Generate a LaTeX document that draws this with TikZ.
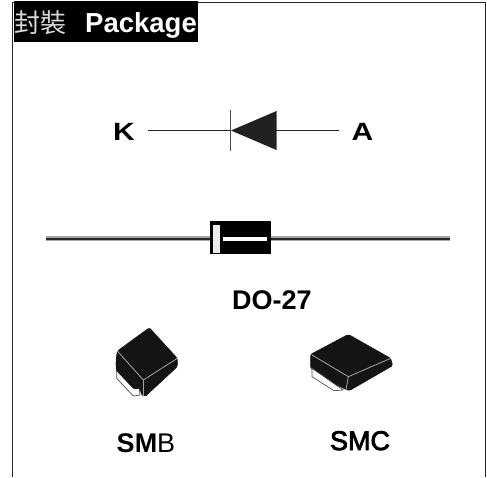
\documentclass[tikz,border=0pt]{standalone}
\usepackage{fontspec}
\setmainfont{Liberation Sans}
\newfontfamily\cjkfont{Noto Sans CJK TC}
\newfontfamily\semifont[FakeBold=3]{Liberation Sans}
\tikzset{
  lbl/.style={font=\bfseries\fontsize{27}{27}\selectfont, text=black, inner sep=0pt, anchor=base},
  wire/.style={draw=black!85, line width=0.9pt},
  edgeline/.style={draw=white!65!black, line width=0.8pt, line join=round},
  body/.style={fill=black!92, draw=black!92, line width=0.5pt, line join=round, rounded corners=1.5pt},
  tabline/.style={draw=black!70, line width=0.7pt, fill=white, line join=round}
}
\begin{document}
\begin{tikzpicture}[x=1pt,y=-1pt]
\useasboundingbox (0,0) rectangle (487,477);
% frame
\draw[draw=black!85, line width=1.9pt] (12.5,477) -- (12.5,2.5) -- (485.5,2.5) -- (485.5,477);
% header
\fill[black] (14,1) rectangle (198,42);
\node[inner sep=0pt, anchor=base west, text=white!85!black, font=\cjkfont\fontsize{26}{26}\selectfont] (hzh) at (14.5,32) {封裝};
\node[inner sep=0pt, anchor=base west, text=white, font=\bfseries\fontsize{27.5}{27.5}\selectfont] (hen) at (85,32) {Package};
% diode symbol
\node[lbl, font=\bfseries\fontsize{25}{25}\selectfont, xscale=1.2] (K) at (124,140) {K};
\node[lbl, font=\bfseries\fontsize{25}{25}\selectfont, xscale=1.2] (A) at (362.5,140) {A};
\coordinate (kend) at (148,130.5);
\coordinate (aend) at (339,130.5);
\coordinate (tip) at (231,130.5);
\coordinate (base) at (276,130.5);
\draw[wire] (kend) -- (tip);
\draw[wire] (base) -- (aend);
\draw[draw=black!70, line width=1.1pt] (230.5,110) -- (230.5,151);
\fill[black!87] (tip) -- (276.5,111) -- (276.5,150) -- cycle;
% DO-27 axial
\coordinate (leadL) at (46,238.5);
\coordinate (leadR) at (450,238.5);
\draw[draw=black!35, line width=5.4pt] (leadL) -- (leadR);
\draw[draw=black!85, line width=2pt] (leadL) -- (leadR);
\fill[black] (210,221) rectangle (271,254);
\fill[white!92!black] (213,224.5) rectangle (219.5,253);
\fill[white] (223,236.5) rectangle (267,240.5);
\node[lbl] (do) at (272,309) {DO-27};
% SMB
\path[body] (90+82/3,315+108/3) -- (90+178/3,315+38/3) -- (90+262/3,315+130/3) -- (90+262/3,315+155/3)
  -- (90+165/3,315+245/3) -- (90+155/3,315+240/3) -- (90+150/3,315+222/3) -- (90+132/3,315+222/3) -- (90+80/3,315+165/3)  -- (90+78/3,315+145/3) -- cycle;
\draw[tabline] (90+80/3,315+165/3) -- (90+80/3,315+190/3) -- (90+130/3,315+243/3) -- (90+150/3,315+240/3) -- (90+148/3,315+222/3) -- (90+132/3,315+220/3) -- cycle;
\path[body] (90+78/3,315+145/3) -- (90+78/3,315+165/3) -- (90+132/3,315+222/3) -- (90+148/3,315+218/3) -- (90+160/3,315+195/3) -- (90+82/3,315+108/3) -- cycle;
\draw[edgeline] (90+82/3,315+108/3) -- (90+160/3,315+195/3) -- (90+262/3,315+130/3);
\draw[edgeline] (90+160/3,315+195/3) -- (90+160/3,315+242/3);
\node[lbl, inner sep=0pt, font=\fontsize{27}{27}\selectfont] (smb) at (146,452) {\textbf{SM}B};
% SMC
\path[body] (290+62/3,315+118/3) -- (290+175/3,315+58/3) -- (290+302/3,315+130/3) -- (290+308/3,315+152/3)
  -- (290+178/3,315+227/3) -- (290+165/3,315+222/3) -- (290+130/3,315+205/3) -- (290+62/3,315+160/3) -- cycle;
\draw[tabline] (290+66/3,315+160/3) -- (290+66/3,315+185/3) -- (290+132/3,315+227/3) -- (290+160/3,315+225/3) -- (290+135/3,315+208/3) -- cycle;
\draw[edgeline] (290+66/3,315+120/3) -- (290+175/3,315+185/3) -- (290+302/3,315+130/3);
\draw[edgeline] (290+175/3,315+185/3) -- (290+168/3,315+224/3);
\node[lbl, font=\semifont\fontsize{27}{27}\selectfont] (smc) at (360,450) {SMC};
\end{tikzpicture}
\end{document}
